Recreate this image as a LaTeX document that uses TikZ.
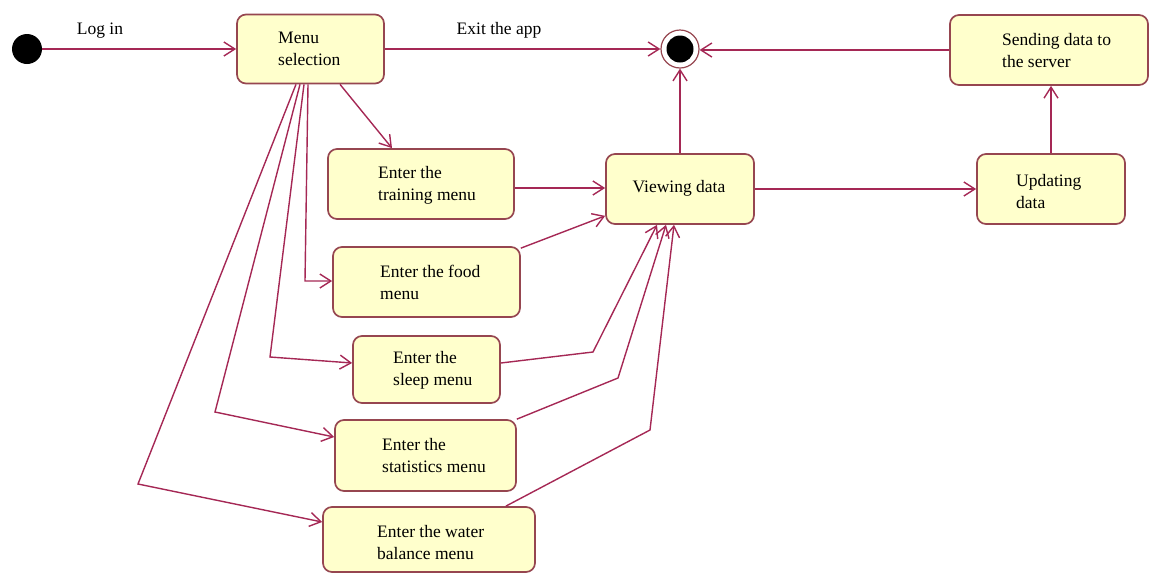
\documentclass[tikz,border=0pt]{standalone}
\usepackage{fontspec}
\setmainfont{Liberation Serif}
\usetikzlibrary{arrows.meta}
\definecolor{boxfill}{RGB}{255,255,204}
\definecolor{boxline}{RGB}{150,70,80}
\definecolor{flow}{RGB}{165,40,85}
\begin{document}
\begin{tikzpicture}[x=1pt,y=-1pt,
  font=\fontsize{17.5}{22}\selectfont,
  state/.style={draw=boxline, fill=boxfill, line width=1.7pt,
    rounded corners=9pt, inner sep=0pt},
  txt/.style={anchor=west, align=left, inner sep=0pt, text=black},
  lbl/.style={inner sep=0pt, text=black},
  flowline/.style={draw=flow, line width=1.4pt,
    -{Straight Barb[length=11pt,width=14pt,line width=1.4pt]}},
]
\useasboundingbox (0,0) rectangle (1149,574);

% states
\node[state, minimum width=147pt, minimum height=69pt] (menu) at (310.5,49) {};
\node[state, minimum width=186pt, minimum height=70pt] (training) at (421,184) {};
\node[state, minimum width=187pt, minimum height=70pt] (food) at (426.5,282) {};
\node[state, minimum width=147pt, minimum height=67pt] (sleep) at (426.5,369.5) {};
\node[state, minimum width=181pt, minimum height=71pt] (stats) at (425.5,455.5) {};
\node[state, minimum width=212pt, minimum height=65pt] (water) at (429,539.5) {};
\node[state, minimum width=148pt, minimum height=70pt] (viewing) at (680,189) {};
\node[state, minimum width=148pt, minimum height=70pt] (updating) at (1051,189) {};
\node[state, minimum width=198pt, minimum height=70pt] (sending) at (1049,50) {};

% state texts
\node[txt] (menu-t) at (278,49) {Menu\\selection};
\node[txt] (training-t) at (378,185.5) {Enter the\\training menu};
\node[txt] (food-t) at (380,282.5) {Enter the food\\menu};
\node[txt] (sleep-t) at (393,370.5) {Enter the\\sleep menu};
\node[txt] (stats-t) at (382,456) {Enter the\\statistics menu};
\node[txt] (water-t) at (377,542.5) {Enter the water\\balance menu};
\node[lbl] (viewing-t) at (679,188) {Viewing data};
\node[txt] (updating-t) at (1016,192) {Updating\\data};
\node[txt] (sending-t) at (1002,51) {Sending data to\\the server};

% initial and final pseudo-states
\node[circle, fill=black, minimum size=30pt, inner sep=0pt] (start) at (27,49) {};
\node[circle, draw=boxline, fill=white, line width=1.2pt, minimum size=38pt, inner sep=0pt] (final) at (680,49) {};
\node[circle, fill=black, minimum size=27pt, inner sep=0pt] (finaldot) at (680,49) {};

% transitions along the top row
\draw[flowline] (start.east) -- (start.east -| menu.west);
\node[lbl] (login) at (100,31) {Log in};
\draw[flowline] (menu.east) -- (menu.east -| final.west);
\node[lbl] (exit) at (499,30) {Exit the app};
\draw[flowline] (sending.west) -- (sending.west -| final.east);
\draw[flowline] (viewing.north) -- (final.south);
\draw[flowline] (updating.north) -- (updating.north |- sending.south);
\draw[flowline] (viewing.east) -- (updating.west);

% menu selection to the sub-menus
\coordinate (bf) at (305,281);
\coordinate (bs) at (270,357);
\coordinate (bt) at (215,412);
\coordinate (bw) at (138,484);
\draw[flowline] ([xshift=29.5pt]menu.south) -- ([xshift=-29pt]training.north);
\draw[flowline] ([xshift=-2.5pt]menu.south) -- (bf) -- (bf -| food.west);
\draw[flowline] ([xshift=-6.5pt]menu.south) -- (bs) -- ([yshift=6.5pt]sleep.west);
\draw[flowline] ([xshift=-10.5pt]menu.south) -- (bt) -- ([yshift=18.5pt]stats.west);
\draw[flowline] ([xshift=-14.5pt]menu.south) -- (bw) -- ([yshift=17.5pt]water.west);

% sub-menus to viewing data
\coordinate (vs) at (593,352);
\coordinate (vt) at (618,378);
\coordinate (vw) at (650,430);
\draw[flowline] ([yshift=-4pt]training.east) -- ([yshift=-4pt]training.east -| viewing.west);
\draw[flowline] ([yshift=-2pt]food.north east) -- ([yshift=9pt]viewing.south west);
\draw[flowline] ([yshift=6.5pt]sleep.east) -- (vs) -- ([xshift=-23pt]viewing.south);
\draw[flowline] (stats.north east) -- (vt) -- ([xshift=-14pt]viewing.south);
\draw[flowline] ([xshift=-30pt]water.north east) -- (vw) -- ([xshift=-6pt]viewing.south);
\end{tikzpicture}
\end{document}
